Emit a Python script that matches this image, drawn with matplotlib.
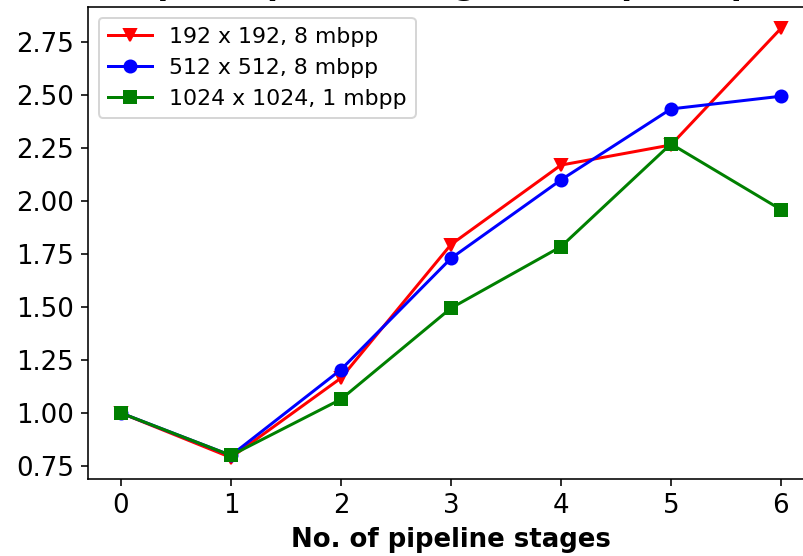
import numpy as np
import matplotlib.pyplot as plt

# Data
stages = [0, 1, 2, 3, 4, 5, 6]
speedup_192 = [1.00, 0.79, 1.165, 1.795, 2.17, 2.265, 2.815]
speedup_512 = [1.00, 0.80, 1.205, 1.73, 2.10, 2.435, 2.495]
speedup_1024 = [1.00, 0.80, 1.065, 1.495, 1.785, 2.27, 1.96]

plt.rcParams['font.size'] = 13

fig = plt.figure(figsize=(803 / 144, 556 / 144), dpi=144)
ax = fig.add_axes([0.1096, 0.1385, 0.904, 0.849])

ax.plot(stages, speedup_192, marker='v', color='red', label="192 x 192, 8 mbpp")
ax.plot(stages, speedup_512, marker='o', color='blue', label="512 x 512, 8 mbpp")
ax.plot(stages, speedup_1024, marker='s', color='green', label="1024 x 1024, 1 mbpp")

ax.set_title("Speedup over image size (speedup)", fontweight='bold')
ax.set_xlabel("No. of pipeline stages", fontweight='bold')
ax.legend(loc='upper left', fontsize=11)

fig.savefig("out.png", dpi=144)
